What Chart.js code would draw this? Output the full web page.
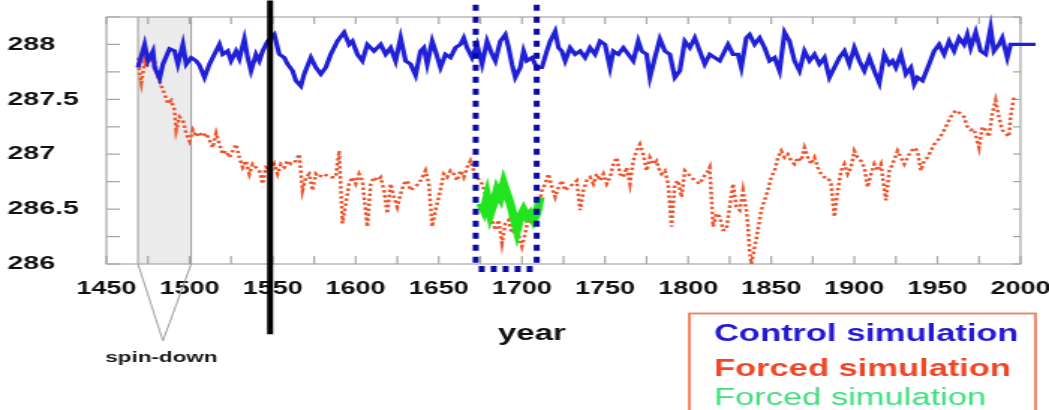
<!DOCTYPE html>
<html>
<head>
<meta charset="utf-8">
<script src="https://cdn.jsdelivr.net/npm/chart.js@4.4.0/dist/chart.umd.min.js"></script>
<style>
html,body{margin:0;padding:0;background:#fff;overflow:hidden;width:1049px;height:410px;}
#wrap{position:absolute;left:0;top:0;width:700px;height:410px;transform:scaleX(1.498571);transform-origin:0 0;}
</style>
</head>
<body>
<div id="wrap"><canvas id="c" width="700" height="410"></canvas></div>
<script>
// ---- tick labels ----
const X_TICK_LABELS = [1450, 1500, 1550, 1600, 1650, 1700, 1750, 1800, 1850, 1900, 1950, 2000];
const Y_TICK_LABELS = [286, 286.5, 287, 287.5, 288];

// ---- Control simulation (blue) ----
const CONTROL_YEARS = [1469,1473,1475,1478,1479,1482,1484,1488,1491,1493,1496,1498,1501,1504,1506,1509,1512,1515,1518,1520,1523,1525,1528,1530,1533,1535,1537,1540,1542,1544,1547,1551,1554,1557,1559,1562,1564,1567,1569,1573,1576,1579,1582,1585,1589,1593,1596,1598,1601,1604,1607,1611,1615,1618,1621,1624,1627,1630,1633,1636,1639,1641,1643,1646,1648,1651,1654,1657,1660,1663,1665,1667,1670,1673,1676,1679,1682,1684,1687,1690,1692,1694,1696,1699,1701,1703,1706,1709,1712,1715,1717,1720,1722,1724,1726,1729,1732,1735,1738,1741,1744,1747,1750,1753,1755,1758,1761,1764,1767,1770,1772,1775,1777,1780,1783,1786,1789,1792,1795,1798,1801,1804,1807,1810,1813,1816,1819,1822,1824,1827,1830,1832,1835,1837,1840,1843,1846,1849,1852,1855,1858,1861,1864,1867,1870,1873,1876,1879,1882,1885,1888,1891,1894,1897,1900,1903,1906,1909,1912,1915,1918,1921,1923,1925,1928,1931,1934,1936,1938,1941,1945,1948,1951,1954,1957,1960,1963,1966,1968,1970,1973,1976,1979,1982,1984,1987,1989,1992,1994,2009];
const CONTROL_TEMP = [287.79,288.00,287.85,287.94,287.79,287.69,287.82,287.96,287.94,287.82,288.00,287.82,287.88,287.85,287.81,287.70,287.82,287.91,288.00,287.91,287.94,287.85,287.94,287.87,288.05,287.88,287.76,287.91,287.85,287.94,288.03,288.09,287.91,287.88,287.82,287.76,287.67,287.62,287.73,287.88,287.79,287.73,287.79,287.91,288.03,288.11,288.00,288.03,287.91,287.85,288.00,287.94,288.00,287.91,287.97,287.85,288.06,287.85,287.82,287.72,287.94,287.97,287.82,288.03,287.94,287.79,287.91,287.88,287.97,288.00,288.06,287.97,287.88,288.00,287.82,288.03,287.91,287.85,288.03,288.09,287.97,287.82,287.70,287.79,287.94,287.85,287.88,287.79,287.79,287.94,288.03,288.12,287.97,287.94,287.85,287.97,287.91,287.94,287.88,287.97,287.91,288.03,288.00,287.79,287.94,287.91,287.97,287.91,287.85,288.03,287.94,287.91,287.70,287.88,288.05,287.94,287.91,287.70,287.76,288.03,287.97,288.06,287.94,287.82,287.91,287.88,287.85,287.94,288.00,287.91,287.91,287.79,288.06,288.09,288.00,288.06,287.97,287.85,287.88,287.76,288.11,288.03,287.85,287.76,287.94,287.85,287.91,287.82,287.88,287.70,287.79,287.88,287.94,287.82,287.97,287.85,287.76,287.88,287.76,287.65,287.91,287.82,287.85,287.79,287.91,287.73,287.79,287.64,287.70,287.67,287.82,287.94,288.00,287.91,288.03,287.94,288.06,288.00,288.09,287.97,288.11,287.94,287.91,288.15,287.94,288.00,288.06,287.88,288.00,288.00];

// ---- Forced simulation (orange dotted) ----
const FORCED_YEARS = [1469,1470,1471,1473,1474,1476,1478,1479,1481,1483,1485,1487,1489,1491,1492,1494,1496,1498,1500,1502,1504,1506,1508,1510,1512,1514,1516,1518,1520,1522,1524,1526,1528,1530,1532,1534,1536,1538,1540,1542,1544,1546,1549,1551,1553,1555,1557,1559,1561,1564,1566,1568,1570,1572,1574,1576,1578,1580,1582,1585,1588,1590,1592,1594,1596,1598,1600,1602,1604,1607,1609,1611,1613,1615,1617,1619,1621,1623,1625,1627,1629,1631,1633,1635,1638,1640,1642,1644,1646,1648,1650,1653,1655,1657,1659,1661,1663,1665,1667,1669,1671,1673,1676,1678,1680,1682,1684,1686,1688,1690,1692,1694,1697,1700,1702,1704,1706,1708,1710,1712,1714,1716,1718,1720,1722,1724,1726,1728,1731,1733,1735,1737,1739,1741,1743,1745,1747,1749,1751,1753,1755,1757,1759,1761,1763,1765,1767,1769,1771,1773,1775,1777,1779,1781,1782,1784,1786,1788,1790,1792,1794,1796,1798,1800,1802,1804,1807,1809,1811,1813,1815,1817,1819,1821,1823,1825,1827,1829,1831,1833,1835,1836,1837,1838,1840,1842,1844,1846,1848,1850,1852,1854,1856,1858,1860,1862,1864,1866,1868,1870,1872,1874,1876,1878,1880,1882,1884,1886,1888,1890,1892,1894,1896,1898,1900,1902,1904,1906,1908,1910,1912,1914,1916,1917,1919,1921,1923,1926,1928,1930,1933,1936,1938,1940,1942,1944,1946,1948,1950,1953,1956,1958,1961,1964,1966,1968,1970,1972,1975,1977,1979,1981,1983,1985,1987,1989,1991,1993,1994,1996];
const FORCED_TEMP = [287.88,287.73,287.65,287.85,287.79,287.85,287.91,287.85,287.70,287.62,287.55,287.46,287.49,287.40,287.22,287.34,287.31,287.19,287.12,287.22,287.16,287.20,287.16,287.19,287.13,287.06,287.19,287.09,287.00,287.03,286.97,287.03,287.09,286.97,286.88,286.94,286.82,286.91,286.88,286.85,286.73,286.88,286.85,286.91,286.82,286.91,286.88,286.94,286.91,286.94,287.00,286.67,286.79,286.82,286.67,286.82,286.79,286.82,286.81,286.79,286.79,287.03,286.37,286.55,286.73,286.79,286.73,286.82,286.76,286.34,286.73,286.79,286.76,286.79,286.67,286.46,286.73,286.61,286.52,286.64,286.73,286.76,286.67,286.70,286.73,286.79,286.85,286.73,286.34,286.49,286.61,286.82,286.79,286.85,286.82,286.76,286.85,286.79,286.88,286.94,286.85,286.79,286.73,286.64,286.55,286.40,286.31,286.40,286.19,286.37,286.40,286.28,286.31,286.16,286.28,286.43,286.37,286.46,286.52,286.67,286.73,286.82,286.70,286.61,286.70,286.76,286.67,286.70,286.73,286.76,286.49,286.67,286.76,286.79,286.73,286.82,286.76,286.82,286.73,286.79,286.91,286.97,286.82,286.79,286.88,286.73,286.94,287.03,287.09,287.00,286.85,286.97,286.91,286.94,286.88,286.82,286.85,286.73,286.34,286.73,286.76,286.61,286.85,286.82,286.79,286.76,286.73,286.79,286.82,286.88,286.34,286.46,286.43,286.31,286.31,286.52,286.73,286.52,286.49,286.67,286.49,286.34,286.12,286.00,286.15,286.31,286.49,286.58,286.67,286.79,286.85,286.97,287.03,286.97,287.00,286.94,286.91,286.97,286.94,287.06,286.97,286.91,286.97,286.88,286.82,286.79,286.79,286.73,286.43,286.67,286.85,286.91,286.82,286.88,287.03,286.97,286.94,286.88,286.70,286.82,286.91,286.85,286.91,286.79,286.58,286.85,286.91,287.03,286.97,286.91,287.00,287.06,287.03,286.85,286.94,286.97,287.03,287.09,287.12,287.19,287.28,287.34,287.40,287.37,287.34,287.25,287.22,287.23,287.06,287.25,287.22,287.16,287.37,287.49,287.34,287.22,287.19,287.16,287.34,287.52];

// ---- Forced simulation (green, short segment) ----
const GREEN_YEARS = [1675,1677,1679,1681,1683,1685,1687,1689,1691,1693,1695,1697,1699,1701,1703,1705,1707,1709,1711];
const GREEN_TEMP = [286.55,286.49,286.61,286.46,286.55,286.67,286.61,286.73,286.64,286.55,286.43,286.31,286.43,286.49,286.43,286.46,286.40,286.46,286.61];

// ---- annotations (data units) ----
const SPIN_DOWN = [1469, 1501];
const SPIN_APEX = {year: 1484, temp: 285.3};
const BLACK_LINE = {year: 1548.5, top: 288.4, bottom: 285.36};
const DOTTED_BOX = {from: 1672.2, to: 1708.9, top: 288.335, bottom: 285.955};

const FONT = '"Liberation Sans", Arial, Helvetica, sans-serif';
const toPts = (xs, ys) => xs.map((x, i) => ({x: x, y: ys[i]}));

const decor = {
  id: 'decor',
  beforeDatasetsDraw(chart) {
    const {ctx, chartArea: a, scales: {x, y}} = chart;
    ctx.save();
    // spin-down band
    const x0 = x.getPixelForValue(SPIN_DOWN[0]), x1 = x.getPixelForValue(SPIN_DOWN[1]);
    ctx.fillStyle = '#ebebeb';
    ctx.fillRect(x0, a.top, x1 - x0, a.bottom - a.top);
    ctx.strokeStyle = '#9c9c9c';
    ctx.lineWidth = 1;
    const ax = x.getPixelForValue(SPIN_APEX.year), ay = y.getPixelForValue(SPIN_APEX.temp);
    ctx.beginPath();
    ctx.moveTo(x0, a.top); ctx.lineTo(x0, a.bottom);
    ctx.moveTo(x1, a.top); ctx.lineTo(x1, a.bottom);
    ctx.moveTo(x0, a.bottom); ctx.lineTo(ax, ay); ctx.lineTo(x1, a.bottom);
    ctx.stroke();
    // frame
    ctx.strokeStyle = '#a6a6a6';
    ctx.lineWidth = 1.2;
    ctx.strokeRect(a.left, a.top, a.right - a.left, a.bottom - a.top);
    // inward tick marks
    ctx.beginPath();
    y.ticks.forEach(t => {
      const py = y.getPixelForValue(t.value);
      ctx.moveTo(a.left, py); ctx.lineTo(a.left + 9, py);
      ctx.moveTo(a.right, py); ctx.lineTo(a.right - 5, py);
    });
    x.ticks.forEach(t => {
      const px = x.getPixelForValue(t.value);
      ctx.moveTo(px, a.top); ctx.lineTo(px, a.top + 7);
      ctx.moveTo(px, a.bottom); ctx.lineTo(px, a.bottom - 8);
    });
    ctx.stroke();
    // spin-down label
    ctx.fillStyle = '#1a1a1a';
    ctx.font = 'bold 15px ' + FONT;
    ctx.textAlign = 'center';
    ctx.textBaseline = 'alphabetic';
    ctx.fillText('spin-down', ax - 1, ay + 21);
    ctx.restore();
  },
  afterDatasetsDraw(chart) {
    const {ctx, chartArea: a, scales: {x, y}} = chart;
    ctx.save();
    // black vertical line
    const bx = x.getPixelForValue(BLACK_LINE.year);
    ctx.strokeStyle = '#000';
    ctx.lineWidth = 4;
    ctx.beginPath();
    ctx.moveTo(bx, y.getPixelForValue(BLACK_LINE.top));
    ctx.lineTo(bx, y.getPixelForValue(BLACK_LINE.bottom));
    ctx.stroke();
    // dotted box
    const L = x.getPixelForValue(DOTTED_BOX.from), R = x.getPixelForValue(DOTTED_BOX.to);
    const T = y.getPixelForValue(DOTTED_BOX.top), B = y.getPixelForValue(DOTTED_BOX.bottom);
    ctx.strokeStyle = '#0a0aa6';
    ctx.lineCap = 'butt';
    ctx.lineWidth = 4;
    ctx.setLineDash([6, 6]);
    ctx.beginPath();
    ctx.moveTo(L, T - 3); ctx.lineTo(L, B - 2);
    ctx.moveTo(R, T - 3); ctx.lineTo(R, B - 2);
    ctx.stroke();
    ctx.lineWidth = 6;
    ctx.setLineDash([4, 4]);
    ctx.beginPath();
    ctx.moveTo(L + 2, B); ctx.lineTo(R - 2.5, B);
    ctx.stroke();
    ctx.setLineDash([]);
    // axis title
    ctx.fillStyle = '#111';
    ctx.font = 'bold 22px ' + FONT;
    ctx.textAlign = 'center';
    ctx.textBaseline = 'alphabetic';
    ctx.fillText('year', 355, 340);
    // legend box
    ctx.strokeStyle = '#f07c5c';
    ctx.lineWidth = 1.8;
    ctx.strokeRect(460, 313.5, 231, 120);
    const ds = chart.data.datasets;
    const rows = [
      {i: 0, y: 341, color: '#2419d4', weight: 'bold'},
      {i: 1, y: 375.5, color: '#ef4726', weight: 'bold'},
      {i: 2, y: 405, color: '#3fdf7c', weight: 'normal'}
    ];
    ctx.textAlign = 'left';
    rows.forEach(r => {
      ctx.fillStyle = r.color;
      ctx.font = r.weight + ' 23px ' + FONT;
      ctx.fillText(ds[r.i].label, 476.5, r.y);
    });
    ctx.restore();
  }
};

new Chart(document.getElementById('c'), {
  type: 'scatter',
  data: {
    datasets: [
      {
        label: 'Control simulation',
        data: toPts(CONTROL_YEARS, CONTROL_TEMP),
        showLine: true, borderColor: '#2020d6', borderWidth: 3.2,
        pointRadius: 0, tension: 0, clip: false, order: 1
      },
      {
        label: 'Forced simulation',
        data: toPts(FORCED_YEARS, FORCED_TEMP),
        showLine: true, borderColor: '#f0532a', borderWidth: 2.5, borderDash: [2.5, 2.5],
        pointRadius: 0, tension: 0, order: 2
      },
      {
        label: 'Forced simulation',
        data: toPts(GREEN_YEARS, GREEN_TEMP),
        showLine: true, borderColor: '#22e41e', borderWidth: 6,
        pointRadius: 0, tension: 0, order: 0
      }
    ]
  },
  options: {
    responsive: false,
    animation: false,
    devicePixelRatio: 1,
    layout: {padding: {left: 5, right: 19, top: 17, bottom: 0}},
    plugins: {legend: {display: false}, tooltip: {enabled: false}},
    scales: {
      x: {
        type: 'linear', min: 1450, max: 2000,
        grid: {display: false, drawTicks: false},
        border: {display: false},
        ticks: {
          stepSize: 25, autoSkip: false, maxRotation: 0, padding: 14,
          color: '#111', font: {family: FONT, size: 18, weight: 'bold'},
          callback: v => X_TICK_LABELS.includes(v) ? String(v) : ''
        },
        afterFit: s => { s.height = 146; s.paddingLeft = 0; s.paddingRight = 0; }
      },
      y: {
        type: 'linear', min: 286, max: 288.25,
        grid: {display: false, drawTicks: false},
        border: {display: false},
        ticks: {
          stepSize: 0.25, autoSkip: false, crossAlign: 'far', padding: 0,
          color: '#111', font: {family: FONT, size: 19, weight: 'bold'},
          callback: v => Y_TICK_LABELS.includes(v) ? String(v) : ''
        },
        afterFit: s => { s.width = 66; s.paddingTop = 0; s.paddingBottom = 0; }
      }
    }
  },
  plugins: [decor]
});
</script>
</body>
</html>
